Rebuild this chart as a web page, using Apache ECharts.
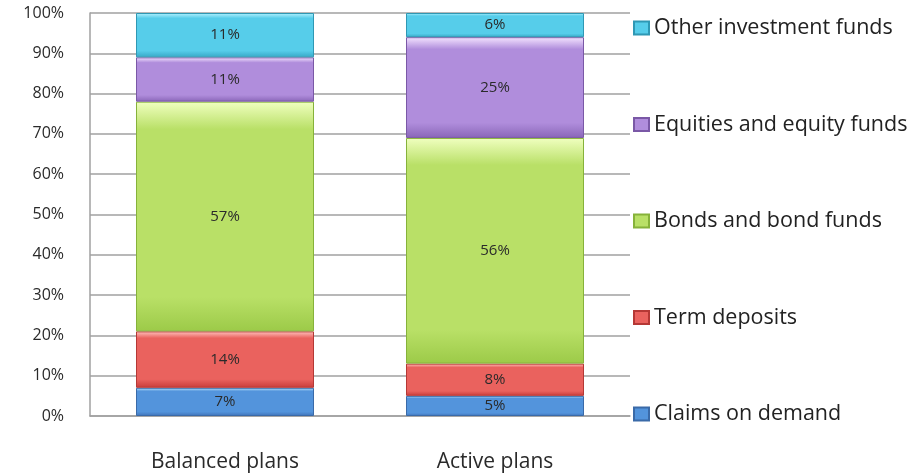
<!DOCTYPE html>
<html>
<head>
<meta charset="utf-8">
<script src="https://cdn.jsdelivr.net/npm/echarts@6/dist/echarts.min.js"></script>
<style>html,body{margin:0;padding:0;background:#fff}#c{width:909px;height:474px}</style>
</head>
<body>
<div id="c"></div>
<script>
const categories = ['Balanced plans', 'Active plans'];
const seriesNames = ['Claims on demand', 'Term deposits', 'Bonds and bond funds', 'Equities and equity funds', 'Other investment funds'];
const claimsOnDemand = [7, 5];
const termDeposits = [14, 8];
const bondsAndBondFunds = [57, 56];
const equitiesAndEquityFunds = [11, 25];
const otherInvestmentFunds = [11, 6];
const yTicks = [0, 10, 20, 30, 40, 50, 60, 70, 80, 90, 100];

const values = [claimsOnDemand, termDeposits, bondsAndBondFunds, equitiesAndEquityFunds, otherInvestmentFunds];
const palettes = [
  {light: '#c4ecff', mid: '#5394dc', dark: '#3f72b8', border: '#3a6aa8'},
  {light: '#ffc4c0', mid: '#ea625e', dark: '#c83c3a', border: '#b53835'},
  {light: '#f0ffc0', mid: '#b9e067', dark: '#9cca48', border: '#86b23a'},
  {light: '#f4e4ff', mid: '#b08ddc', dark: '#8a66b8', border: '#7a58a6'},
  {light: '#b4f2ff', mid: '#56cdea', dark: '#36a8c6', border: '#2f98b4'}
];
function grad(p) {
  return new echarts.graphic.LinearGradient(0, 0, 0, 1, [
    {offset: 0, color: p.light},
    {offset: 0.12, color: p.mid},
    {offset: 0.85, color: p.mid},
    {offset: 1, color: p.dark}
  ]);
}
const FONT = 'Open Sans';
const chart = echarts.init(document.getElementById('c'));
chart.setOption({
  animation: false,
  backgroundColor: '#fff',
  grid: {left: 90, right: 279, top: 13, bottom: 58, containLabel: false},
  xAxis: {
    type: 'category',
    data: categories,
    axisLine: {lineStyle: {color: '#a0a0a0', width: 1.5}},
    axisTick: {show: false},
    axisLabel: {margin: 36, fontSize: 21, fontFamily: FONT, color: '#2a2a2a'}
  },
  yAxis: {
    type: 'value',
    min: yTicks[0], max: yTicks[yTicks.length - 1], interval: 10,
    axisLine: {show: true, lineStyle: {color: '#a0a0a0', width: 1.5}},
    axisTick: {show: false},
    splitLine: {lineStyle: {color: '#a0a0a0', width: 1.5}},
    axisLabel: {margin: 26, fontSize: 16, fontFamily: FONT, color: '#2a2a2a', formatter: '{value}%'}
  },
  legend: {
    orient: 'vertical',
    left: 628, top: 12,
    itemWidth: 15, itemHeight: 13, itemGap: 74.5,
    icon: 'rect',
    data: seriesNames.slice().reverse(),
    textStyle: {fontSize: 21.5, lineHeight: 20, fontFamily: FONT, color: '#222', padding: [0, 0, 0, 0]}
  },
  series: seriesNames.map((name, i) => ({
    name: name,
    type: 'bar',
    stack: 'total',
    barWidth: 178,
    data: values[i],
    itemStyle: {color: grad(palettes[i]), borderColor: palettes[i].border, borderWidth: 1},
    label: {show: true, position: 'inside', formatter: '{c}%', fontSize: 15, fontFamily: FONT, color: '#2a2a2a'}
  }))
});
</script>
</body>
</html>
